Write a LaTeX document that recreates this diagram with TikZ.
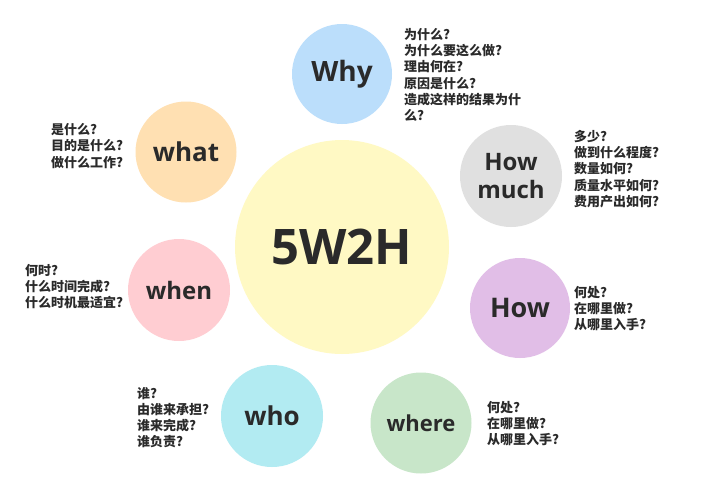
\documentclass[tikz,border=0pt]{standalone}
\usepackage{fontspec}
\setmainfont{Open Sans}
\newfontfamily\cjk{Noto Sans CJK SC}
\definecolor{txt}{HTML}{2A2A2A}
\definecolor{cyel}{HTML}{FFF9C4}
\definecolor{cblue}{HTML}{BBDEFB}
\definecolor{corange}{HTML}{FFE0B2}
\definecolor{cgrey}{HTML}{E0E0E0}
\definecolor{cpink}{HTML}{FFCDD2}
\definecolor{cpurple}{HTML}{E1BEE7}
\definecolor{ccyan}{HTML}{B2EBF2}
\definecolor{cgreen}{HTML}{C8E6C9}
\begin{document}
\begin{tikzpicture}[x=1pt,y=-1pt,
  bubble/.style={circle, inner sep=0pt, text=txt, align=center, font=\bfseries\fontsize{25}{28}\selectfont},
  note/.style={anchor=west, align=left, inner sep=0pt, text=txt, font=\cjk\bfseries\fontsize{13}{16.2}\selectfont}]
\useasboundingbox[fill=white] (0,0) rectangle (720,498);
% central bubble
\node[bubble, fill=cyel, minimum size=214pt, font=\bfseries\fontsize{49}{52}\selectfont] (c) at (342,247) {5W2H};
% outer bubbles
\node[bubble, fill=cblue, minimum size=100pt, font=\bfseries\fontsize{28}{30}\selectfont] (why) at (342,74) {Why};
\node[bubble, fill=corange, minimum size=101pt, font=\bfseries\fontsize{26}{28}\selectfont] (what) at (186,152) {what};
\node[bubble, fill=cgrey, minimum size=102pt, font=\bfseries\fontsize{24}{28}\selectfont] (much) at (511,176) {How\\much};
\node[bubble, fill=cpink, minimum size=102pt, font=\bfseries\fontsize{24}{28}\selectfont] (when) at (179,290) {when};
\node[bubble, fill=cpurple, minimum size=100pt, font=\bfseries\fontsize{27}{30}\selectfont] (how) at (520,308) {How};
\node[bubble, fill=ccyan, minimum size=102pt, font=\bfseries\fontsize{26}{28}\selectfont] (who) at (272,416) {who};
\node[bubble, fill=cgreen, minimum size=101pt, font=\bfseries\fontsize{22}{26}\selectfont] (where) at (421,423) {where};
% notes
\node[note] (whyn) at (404,75) {为什么?\\为什么要这么做?\\理由何在?\\原因是什么?\\造成这样的结果为什\\么?};
\node[note] (whatn) at (51,146) {是什么?\\目的是什么?\\做什么工作?};
\node[note] (muchn) at (574,169) {多少?\\做到什么程度?\\数量如何?\\质量水平如何?\\费用产出如何?};
\node[note] (whenn) at (25,286.5) {何时?\\什么时间完成?\\什么时机最适宜?};
\node[note] (hown) at (574,308.7) {何处?\\在哪里做?\\从哪里入手?};
\node[note] (whon) at (137,417.5) {谁?\\由谁来承担?\\谁来完成?\\谁负责?};
\node[note] (wheren) at (487,423.8) {何处?\\在哪里做?\\从哪里入手?};
\end{tikzpicture}
\end{document}
